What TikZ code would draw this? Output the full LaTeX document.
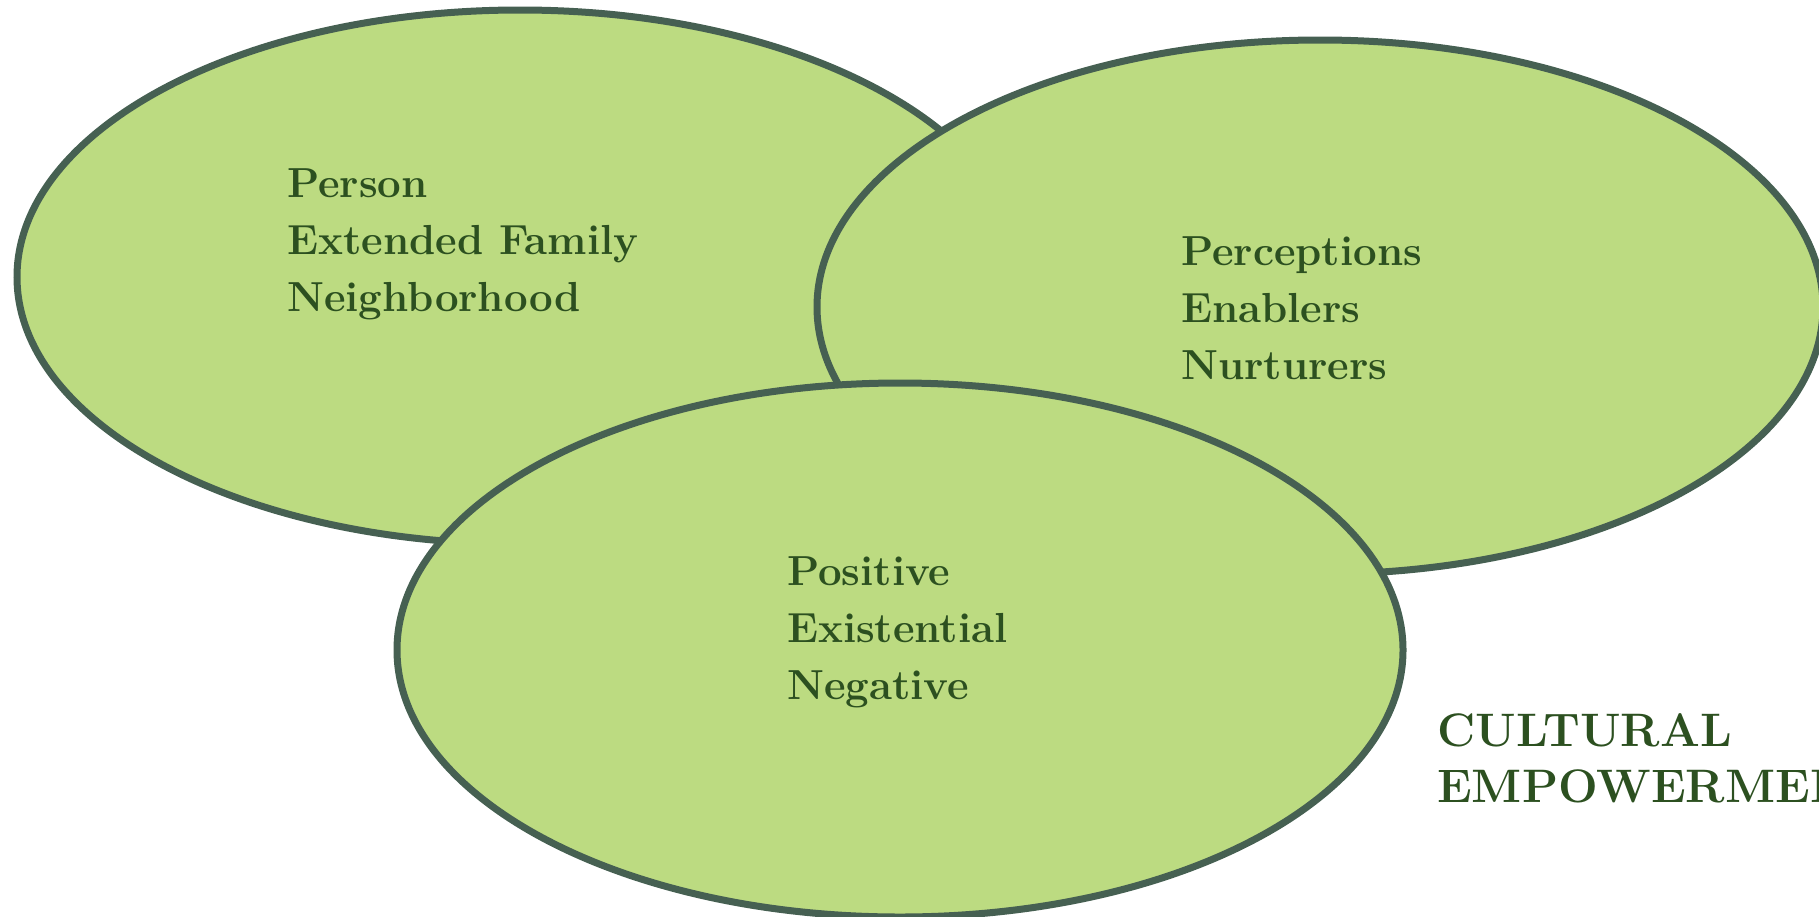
\documentclass[tikz,border=0pt]{standalone}
\usepackage{tikz}
\definecolor{leafgreen}{RGB}{188,219,129}
\definecolor{rimgray}{RGB}{70,96,82}
\definecolor{inkgreen}{RGB}{44,80,32}
\tikzset{
	blob/.style={line width=7pt, color=rimgray, fill=leafgreen},
	lines/.style={anchor=base west, align=left, inner sep=0pt, color=inkgreen, font=\fontsize{42}{57}\selectfont\bfseries},
}

\begin{document}
\begin{tikzpicture}[x=1pt, y=-1pt]
		%%%%% START %%%%%
		\useasboundingbox (0, 0) rectangle (1819, 916);
		
		\draw[blob] (520, 277) ellipse (503 and 267);
		\draw[blob] (1320, 307) ellipse (503 and 267);
		\draw[blob] (900, 650) ellipse (503 and 267);
		
		% anchor is on the last line
		\node[lines] (self) at (287, 311) {Person\\Extended Family\\Neighborhood};
		\node[lines] (enablers) at (1181, 379) {Perceptions\\Enablers\\Nurturers};
		\node[lines] (attitudes) at (787, 699) {Positive\\Existential\\Negative};
		
		\node[lines, font=\fontsize{47}{56}\selectfont\bfseries] (culture) at (1437, 802) {CULTURAL\\EMPOWERMENT};
		
		%%%%% END %%%%%
\end{tikzpicture}
\end{document}
